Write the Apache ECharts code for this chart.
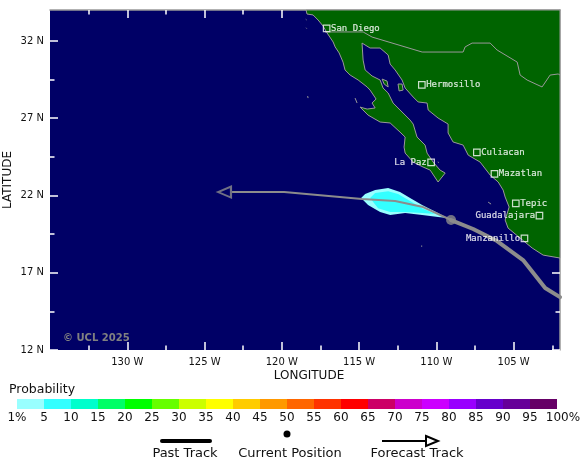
<!DOCTYPE html>
<html><head><meta charset="utf-8">
<style>html,body{margin:0;padding:0;background:#fff}#c{width:580px;height:469px}</style>
<script src="https://cdn.jsdelivr.net/npm/echarts@6/dist/echarts.min.js"></script>
</head><body><div id="c"></div>
<script>
const lonTicks=[-130,-125,-120,-115,-110,-105];
const lonMinor=[-132.5,-127.5,-122.5,-117.5,-112.5,-107.5,-102.5];
const latTicks=[12,17,22,27,32];
const latMinor=[14.5,19.5,24.5,29.5];
const land=[[-118.43,34],[-118.37,33.74],[-117.98,33.68],[-117.65,33.35],[-117.33,32.96],[-117.07,32.51],[-116.68,31.93],[-116.55,31.61],[-116.29,31.22],[-116.04,30.63],[-115.91,30.12],[-115.58,29.79],[-115.06,29.47],[-114.48,29.02],[-114.29,28.82],[-113.9,28.24],[-114.16,27.98],[-113.96,27.66],[-114.48,27.59],[-114.94,27.72],[-114.42,27.2],[-113.64,26.75],[-112.99,26.69],[-112.35,26.1],[-112.02,25.78],[-112.09,25.13],[-112.02,24.74],[-111.5,24.16],[-110.86,23.84],[-110.4,23.64],[-109.89,22.87],[-109.43,23.45],[-109.76,23.64],[-110.21,24.16],[-110.6,24.74],[-110.73,25.26],[-111.25,25.78],[-111.5,26.62],[-111.7,26.88],[-112.22,27.4],[-112.8,27.98],[-113.12,28.63],[-113.45,28.95],[-113.64,29.47],[-114.16,29.73],[-114.61,30.12],[-114.74,30.76],[-114.81,31.86],[-114.29,31.54],[-113.64,31.54],[-113.12,31.09],[-112.99,30.5],[-112.67,30.12],[-112.22,29.47],[-112.02,28.95],[-111.5,28.37],[-111.18,28.05],[-110.6,27.98],[-110.53,27.53],[-109.89,27.01],[-109.24,26.62],[-109.24,26.04],[-108.92,25.46],[-108.27,25.26],[-107.94,24.61],[-107.17,24.16],[-106.52,23.32],[-106,22.87],[-105.68,22.35],[-105.55,21.9],[-105.29,21.25],[-105.55,20.41],[-105.36,19.89],[-104.58,19.24],[-103.8,18.6],[-103.09,18.14],[-102,17.95],[-102,34]];
const islands=[
 [[-113.51,29.53],[-113.19,29.4],[-113.12,29.02],[-113.38,29.21]],
 [[-112.48,29.21],[-112.22,29.21],[-112.15,28.82],[-112.41,28.76]],
 [[-115.26,28.3],[-115.13,27.98]],
 [[-118.33,28.43],[-118.3,28.3]],
 [[-118.45,33.4],[-118.4,33.36]],
 [[-118.43,32.85],[-118.39,32.8]],
 [[-106.65,21.57],[-106.46,21.44]],
 [[-110.95,18.76],[-110.95,18.68]],
 [[-109.89,24.18],[-109.86,24.12]]
];
const border=[[-117.2,32.58],[-114.74,32.58],[-114.16,32.25],[-110.92,31.28],[-108.27,31.28],[-108.14,31.61],[-107.69,31.86],[-106.52,31.86],[-106.07,31.41],[-104.77,30.63],[-104.58,29.79],[-104.13,29.47],[-103.16,29.02],[-102.64,29.79],[-102.12,29.86],[-102,29.79]];
const prob1=[[-114.87,21.83],[-114.61,22.09],[-113.96,22.35],[-113.12,22.48],[-112.35,22.22],[-111.7,21.83],[-110.92,21.38],[-109.89,20.86],[-109.3,20.54],[-109.89,20.6],[-110.92,20.73],[-112.02,20.86],[-112.99,20.73],[-113.64,20.93],[-114.42,21.38]];
const prob5=[[-114.29,21.83],[-113.96,22.16],[-113.12,22.28],[-112.48,22.09],[-111.7,21.64],[-110.92,21.18],[-110.08,20.8],[-110.92,20.86],[-112.02,20.93],[-112.99,20.93],[-113.77,21.18]];
const pastTrack=[[-102,15.42],[-102.96,16.01],[-104.39,17.82],[-106.07,19.05],[-107.62,19.83],[-109.05,20.41]];
const forecastTrack=[[-109.05,20.41],[-110.86,21.25],[-112.67,21.64],[-114.81,21.77],[-119.85,22.22],[-123.22,22.22]];
const arrowHead=[[-123.71,22.22]];
const currentPos=[[-109.05,20.41]];
const cityRight=[["San Diego",-117.1,32.81],["Hermosillo",-110.94,29.15],["Culiacan",-107.38,24.79],["Mazatlan",-106.24,23.39],["Tepic",-104.86,21.49]];
const cityLeft=[["La Paz",-110.34,24.14],["Guadalajara",-103.33,20.69],["Manzanillo",-104.3,19.22]];
const scaleStops=[0,5,10,15,20,25,30,35,40,45,50,55,60,65,70,75,80,85,90,95,100];
const scaleColors=["#99ffff","#33ffff","#00ffcc","#00ff66","#00ff00","#66ff00","#ccff00","#ffff00","#ffcc00","#ff9900","#ff6600","#ff3300","#ff0000","#cc0066","#cc00cc","#cc00ff","#9900ff","#6600cc","#660099","#660066"];

const OCEAN="#000066",LAND="#006400",GREY="#999999",TRACK="#8c8c8c",FONT="DejaVu Sans";

function poly(name,rings,fill,stroke,xi,yi){
  return {type:'custom',name,coordinateSystem:'cartesian2d',xAxisIndex:xi||0,yAxisIndex:yi||0,silent:true,
    data:rings.map((r,i)=>[i]),
    renderItem(p,api){
      const pts=rings[p.dataIndex].map(v=>api.coord(v));
      const f=Array.isArray(fill)?fill[p.dataIndex]:fill;
      return {type:pts.length>2&&f!=='none'?'polygon':'polyline',shape:{points:pts},
        style:{fill:f==='none'?null:f,stroke:stroke||null,lineWidth:stroke?1:0}};
    }};
}
function cities(list,pos){
  return {type:'scatter',symbol:'rect',symbolSize:6.5,silent:true,z:8,
    data:list.map(c=>({name:c[0],value:[c[1],c[2]]})),
    itemStyle:{color:'transparent',borderColor:'#fff',borderWidth:1.2},
    label:{show:true,position:pos,distance:0.5,formatter:'{b}',color:'#fff',fontFamily:'DejaVu Sans Mono',fontSize:9,textBorderColor:'#fff',textBorderWidth:0.2}};
}
function xAx(pos,ticks,len,labels,line){
  return {type:'value',gridIndex:0,position:pos,min:-135,max:-102,splitLine:{show:false},
    name:labels?'LONGITUDE':'',nameLocation:'middle',nameGap:20,nameMoveOverlap:false,nameTextStyle:{color:'#111',fontFamily:FONT,fontSize:12,padding:[0,0,0,8]},
    axisLine:{show:!!line,onZero:false,lineStyle:{color:GREY,width:1.5}},
    axisTick:{show:true,inside:true,length:len,customValues:ticks,lineStyle:{color:'#fff',width:1.5}},
    axisLabel:{show:!!labels,customValues:ticks,margin:7,color:'#111',fontFamily:FONT,fontSize:10,formatter:v=>Math.abs(v)+' W'}};
}
function yAx(pos,ticks,len,labels,line){
  return {type:'value',gridIndex:0,position:pos,min:12,max:34,splitLine:{show:false},
    name:labels?'LATITUDE':'',nameLocation:'middle',nameGap:36,nameMoveOverlap:false,nameTextStyle:{color:'#111',fontFamily:FONT,fontSize:12},
    axisLine:{show:!!line,onZero:false,lineStyle:{color:GREY,width:1.5}},
    axisTick:{show:true,inside:true,length:len,customValues:ticks,lineStyle:{color:'#fff',width:1.5}},
    axisLabel:{show:!!labels,customValues:ticks,margin:6,color:'#111',fontFamily:FONT,fontSize:10,formatter:v=>v+' N'}};
}
const txt=(x,y,text,align,size)=>({type:'text',x,y,style:{text,fill:'#111',font:(size||13)+'px "DejaVu Sans"',textAlign:align||'center',textVerticalAlign:'middle'}});

const chart=echarts.init(document.getElementById('c'),null,{renderer:'canvas'});
chart.setOption({
  animation:false,
  grid:[
    {left:50,top:10,width:510,height:340,show:true,backgroundColor:OCEAN,borderWidth:0,outerBoundsMode:'none'},
    {left:17,top:399,width:540,height:10,show:false,outerBoundsMode:'none'}
  ],
  xAxis:[
    xAx('bottom',lonTicks,8,true,false),
    xAx('top',lonTicks,8,false,true),
    xAx('top',lonMinor,4.5,false,false),
    xAx('bottom',lonMinor,4.5,false,false),
    {type:'value',gridIndex:1,position:'bottom',min:0,max:100,interval:5,splitLine:{show:false},axisLine:{show:false},axisTick:{show:false},
     axisLabel:{margin:3,color:'#111',fontFamily:FONT,fontSize:12,showMinLabel:true,showMaxLabel:true,hideOverlap:false,
       rich:{m:{padding:[0,0,0,12],color:'#111',fontFamily:FONT,fontSize:12}},
       formatter:v=>v===0?'1%':(v===100?'{m|100%}':String(v))}}
  ],
  yAxis:[
    yAx('left',latTicks,8,true,false),
    yAx('right',latTicks,8,false,true),
    yAx('right',latMinor,4.5,false,false),
    yAx('left',latMinor,4.5,false,false),
    {type:'value',gridIndex:1,min:0,max:1,show:false}
  ],
  series:[
    poly('land',[land],LAND,GREY),
    poly('islands',islands,LAND,GREY),
    poly('border',[border],'none',GREY),
    poly('prob1',[prob1],'#99ffff',null),
    poly('prob5',[prob5],'#33ffff',null),
    {type:'line',data:pastTrack,showSymbol:false,silent:true,z:4,lineStyle:{color:TRACK,width:4,cap:'round',join:'round'}},
    {type:'line',data:forecastTrack,showSymbol:false,silent:true,z:4,lineStyle:{color:TRACK,width:2,join:'round'}},
    {type:'scatter',data:arrowHead,silent:true,z:5,symbol:'triangle',symbolRotate:90,symbolSize:[11,13],
      itemStyle:{color:OCEAN,borderColor:TRACK,borderWidth:2}},
    {type:'scatter',data:currentPos,silent:true,z:5,symbol:'circle',symbolSize:10,itemStyle:{color:TRACK}},
    cities(cityRight,'right'),
    cities(cityLeft,'left'),
    poly('scale',scaleColors.map((c,i)=>[[scaleStops[i],0],[scaleStops[i+1],0],[scaleStops[i+1],1],[scaleStops[i],1]]),scaleColors,null,4,4)
  ],
  graphic:[
    {type:'text',x:63,y:338,z:20,style:{text:'© UCL 2025',fill:'#808080',font:'bold 10px "DejaVu Sans"',textVerticalAlign:'middle'}},
    txt(9,389.5,'Probability','left',12.5),
    {type:'line',shape:{x1:162,y1:441,x2:210,y2:441},style:{stroke:'#000',lineWidth:4,lineCap:'round'}},
    {type:'circle',shape:{cx:287,cy:434,r:3.5},style:{fill:'#000'}},
    {type:'line',shape:{x1:382,y1:441,x2:426,y2:441},style:{stroke:'#000',lineWidth:2}},
    {type:'polygon',shape:{points:[[426,436],[438,441],[426,446]]},style:{fill:'#fff',stroke:'#000',lineWidth:2}},
    txt(185,453.5,'Past Track'),
    txt(290,453.5,'Current Position'),
    txt(417,453.5,'Forecast Track')
  ]
});
</script></body></html>
